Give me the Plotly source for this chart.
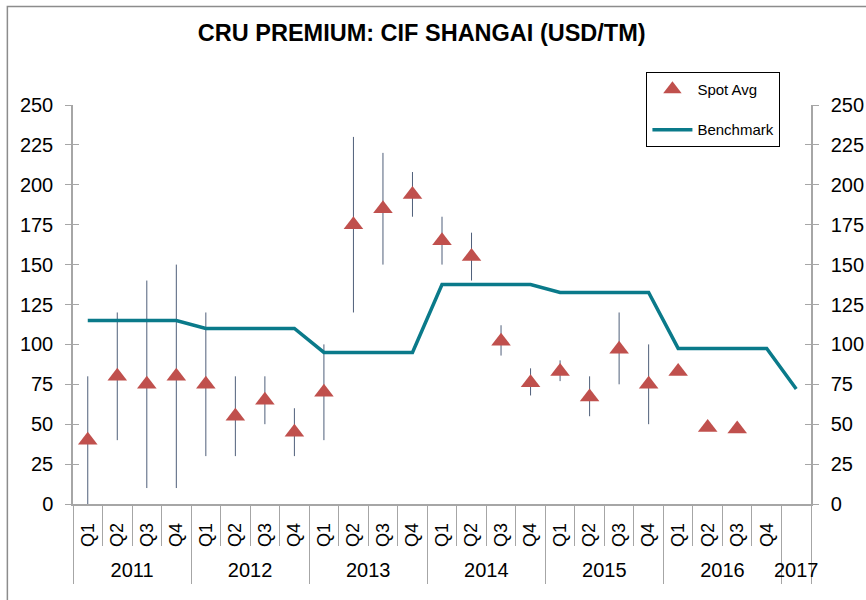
import plotly.graph_objects as go

# ---------------- data ----------------
quarters = ["Q1", "Q2", "Q3", "Q4", "Q1", "Q2", "Q3", "Q4", "Q1", "Q2", "Q3", "Q4",
            "Q1", "Q2", "Q3", "Q4", "Q1", "Q2", "Q3", "Q4", "Q1", "Q2", "Q3", "Q4", ""]
years = ["2011", "2012", "2013", "2014", "2015", "2016", "2017"]
year_sizes = [4, 4, 4, 4, 4, 4, 1]

spot_avg = [40, 80, 75, 80, 75, 55, 65, 45, 70, 175, 185, 194,
            165, 155, 102, 76, 83, 67, 97, 75, 83, 48, 47, None, None]
spot_high = [80, 120, 140, 150, 120, 80, 80, 60, 100, 230, 220, 208,
             180, 170, 112, 85, 90, 80, 120, 100, 83, 48, 47, None, None]
spot_low = [0, 40, 10, 10, 30, 30, 50, 30, 40, 120, 150, 180,
            150, 140, 93, 68, 77, 55, 75, 50, 83, 48, 47, None, None]
benchmark = [115, 115, 115, 115, 110, 110, 110, 110, 95, 95, 95, 95,
             137.5, 137.5, 137.5, 137.5, 132.5, 132.5, 132.5, 132.5,
             97.5, 97.5, 97.5, 97.5, 72]

# ---------------- derived positions ----------------
n = len(quarters)
x = list(range(n))
err_plus = [(h - v) if v is not None else None for h, v in zip(spot_high, spot_avg)]
err_minus = [(v - l) if v is not None else None for l, v in zip(spot_low, spot_avg)]

year_bounds = [-0.5]
year_centers = []
pos = -0.5
for s in year_sizes:
    year_centers.append(pos + s / 2)
    pos += s
    year_bounds.append(pos)
all_bounds = [i - 0.5 for i in range(n + 1)]

FONT = "Liberation Sans, Arial, sans-serif"
AXIS_GRAY = "#a6a6a6"
RNG_X = [-0.5, n - 0.5]
RNG_Y = [0, 250]

fig = go.Figure()
fig.add_trace(go.Scatter(
    x=x, y=spot_avg, mode="markers", name="Spot Avg", legendgroup="a",
    marker=dict(symbol="triangle-up", size=17, color="#c0504d"),
    error_y=dict(type="data", symmetric=False, array=err_plus, arrayminus=err_minus,
                 color="#4f5f7a", thickness=1, width=0),
))
fig.add_trace(go.Scatter(
    x=x, y=benchmark, mode="lines", name="Benchmark", legendgroup="b",
    line=dict(color="#0a7a8a", width=3.5),
))

# empty helper traces so that the decorative overlay axes get drawn
for xa, ya in [("x2", "y"), ("x3", "y"), ("x4", "y"), ("x", "y2"), ("x", "y3"), ("x", "y4")]:
    fig.add_trace(go.Scatter(x=[], y=[], xaxis=xa, yaxis=ya, mode="markers",
                             showlegend=False, hoverinfo="skip"))

common_x = dict(range=RNG_X, showgrid=False, zeroline=False, fixedrange=True)
common_y = dict(range=RNG_Y, dtick=25, showgrid=False, zeroline=False, fixedrange=True)

fig.update_layout(
    width=866, height=600,
    margin=dict(l=72.7, r=54.5, t=105, b=96, autoexpand=False),
    paper_bgcolor="white", plot_bgcolor="white",
    font=dict(family=FONT, color="black"),
    title=dict(text="<b>CRU PREMIUM: CIF SHANGAI (USD/TM)</b>", x=0.487, xanchor="center",
               y=1 - 33 / 600, yanchor="middle", yref="container",
               font=dict(size=23.5, family=FONT, color="black")),
    showlegend=True,
    legend=dict(x=0.777, y=1.083, xanchor="left", yanchor="top",
                bgcolor="white", bordercolor="#000000", borderwidth=1,
                font=dict(size=15, family=FONT), tracegroupgap=18,
                traceorder="grouped", itemwidth=40),
    xaxis=dict(**common_x, tickmode="array", tickvals=x, ticktext=quarters,
               tickangle=-90, ticks="", showline=True, linecolor=AXIS_GRAY, linewidth=1.5,
               tickfont=dict(size=18), ticklabelstandoff=10, anchor="y"),
    xaxis2=dict(**common_x, overlaying="x", anchor="y", tickmode="array",
                tickvals=all_bounds, ticks="outside", ticklen=41, tickcolor=AXIS_GRAY,
                tickwidth=1, showticklabels=False, showline=False),
    xaxis3=dict(**common_x, overlaying="x", anchor="y", tickmode="array",
                tickvals=year_bounds, ticks="outside", ticklen=79, tickcolor=AXIS_GRAY,
                tickwidth=1, showticklabels=False, showline=False),
    xaxis4=dict(**common_x, overlaying="x", anchor="y", tickmode="array",
                tickvals=year_centers, ticktext=years, ticks="", showline=False,
                tickfont=dict(size=20), ticklabelstandoff=52),
    yaxis=dict(**common_y, side="left", anchor="x", showline=True, linecolor=AXIS_GRAY,
               linewidth=1.5, ticks="outside", ticklen=6, tickcolor=AXIS_GRAY,
               tickfont=dict(size=20), ticklabelstandoff=8),
    yaxis2=dict(**common_y, overlaying="y", side="right", anchor="x", showline=True,
                linecolor=AXIS_GRAY, linewidth=1.5, ticks="outside", ticklen=6,
                tickcolor=AXIS_GRAY, tickfont=dict(size=20), ticklabelstandoff=8),
    yaxis3=dict(**common_y, overlaying="y", side="left", anchor="x", showline=False,
                ticks="inside", ticklen=6, tickcolor=AXIS_GRAY, showticklabels=False),
    yaxis4=dict(**common_y, overlaying="y", side="right", anchor="x", showline=False,
                ticks="inside", ticklen=6, tickcolor=AXIS_GRAY, showticklabels=False),
    shapes=[dict(type="rect", xref="paper", yref="paper",
                 x0=(7 - 72.7) / 738.8, x1=(880 - 72.7) / 738.8,
                 y0=(504 - 620) / 399, y1=(504 - 6.5) / 399,
                 line=dict(color="#8c8c8c", width=1.5), layer="below")],
)

fig.write_html("out.html", config={"displayModeBar": False},
               post_script="document.body.style.margin='0';")
